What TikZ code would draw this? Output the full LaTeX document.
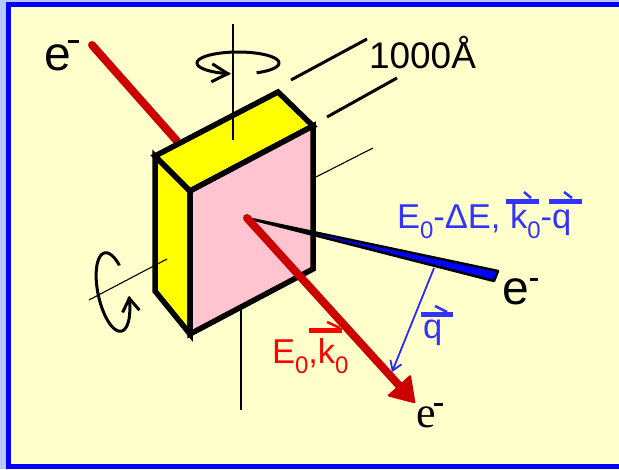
\documentclass[tikz,border=0pt]{standalone}
\usepackage{fontspec}
\setmainfont{Liberation Sans}
\newfontfamily\serifface{Liberation Serif}
\usetikzlibrary{arrows.meta}

\definecolor{paper}{RGB}{255,255,204}
\definecolor{edgeblue}{RGB}{0,0,255}
\definecolor{haloblue}{RGB}{184,200,255}
\definecolor{facepink}{RGB}{255,196,208}
\definecolor{faceyellow}{RGB}{255,255,0}
\definecolor{beamred}{RGB}{204,0,0}
\definecolor{labelred}{RGB}{255,0,0}
\definecolor{labelblue}{RGB}{51,51,255}
\definecolor{wedgeblue}{RGB}{0,0,255}
\definecolor{qblue}{RGB}{40,40,255}

% lowered index digit
\newcommand\lowidx[1]{\raisebox{-10.5pt}{\fontsize{24}{24}\selectfont #1}}

\begin{document}
\begin{tikzpicture}[x=1pt,y=-1pt,
  face/.style={line width=5.5pt, line join=miter, draw=black},
  axisline/.style={line width=1.1pt, black},
  dimline/.style={line width=3pt, black},
  spin/.style={line width=3pt, black},
  lbl/.style={inner sep=0pt, outer sep=0pt, anchor=base west},
  bigfont/.style={font=\fontsize{34.5}{34.5}\selectfont},
  vecbar/.style={line width=5pt},
  vectick/.style={line width=2.5pt},
]
\useasboundingbox (0,0) rectangle (619,469);

% frame
\begin{scope}
\clip (0,0) rectangle (619,469);
\fill[haloblue] (0,0) rectangle (619,469);
\draw[edgeblue, line width=5pt, fill=paper] (8.5,4.5) rectangle (640,466.5);
\end{scope}

% named points
\coordinate (src)   at (92,45);
\coordinate (entry) at (177,141);
\coordinate (hit)   at (247,218);
\coordinate (exit)  at (415,403);
\coordinate (wedgeA) at (498,271);
\coordinate (wedgeB) at (494,281);
\coordinate (qfrom) at (434,268);
\coordinate (qto)   at (392,372);

% incident beam
\draw[beamred, line width=8pt, line cap=round] (src) -- (entry);

% specimen slab
\draw[face, fill=faceyellow] (155,156) -- (190,191) -- (190,334) -- (155,291) -- cycle;
\draw[face, fill=faceyellow] (155,156) -- (278,92) -- (313,126) -- (190,191) -- cycle;
\draw[face, fill=facepink] (190,191) -- (313,126) -- (313,269) -- (190,334) -- cycle;

% rotation axes
\draw[axisline] (233,24) -- (233,140);
\draw[axisline] (241,310) -- (241,410);
\draw[axisline] (89,300) -- (167,259);
\draw[axisline] (316,177) -- (373,148);

% thickness marks
\draw[dimline] (291,80) -- (367,39);
\draw[dimline] (327,117) -- (397,78);

% rotation arrows
\draw[spin, -{Straight Barb[length=16pt,width=18pt]}, variable=\t, domain=63:-260, samples=90, smooth]
  plot ({238+41*cos(\t)},{63+11*sin(\t)});
\draw[spin, -{Straight Barb[length=13pt,width=17pt]}, variable=\t, domain=128:440, samples=90, smooth]
  plot ({113+8.32*cos(\t)+14.67*sin(\t)},{292+39.12*cos(\t)-3.12*sin(\t)});

% scattered beam
\draw[fill=wedgeblue, draw=black, line width=2.5pt, line join=round] (hit) -- (wedgeA) -- (wedgeB) -- cycle;

% transmitted beam
\draw[beamred, line width=8pt, line cap=round, -{Triangle[length=25pt,width=32pt,line width=2pt,round]}] (hit) -- (exit);

% momentum transfer
\draw[qblue, line width=1.8pt, -{Straight Barb[length=9pt,width=12pt]}] (qfrom) -- (qto);

% labels
\node[lbl, font=\fontsize{48}{48}\selectfont] (eIn) at (45,70) {e\kern-3.7pt\rule[27pt]{11pt}{3.5pt}};
\node[lbl, font=\fontsize{48}{48}\selectfont] (eOut) at (502,304) {e\kern1.3pt\rule[23pt]{8pt}{3.5pt}};
\node[lbl, font=\serifface\fontsize{44}{44}\selectfont] (eFwd) at (416,427) {e\kern-2pt\rule[21pt]{9pt}{3pt}};
\node[lbl, font=\fontsize{37}{37}\selectfont] (thick) at (369,68) {1000Å};

\node[lbl, bigfont, text=labelblue] (lossLbl) at (397,228) {E\lowidx{0}-ΔE, k\lowidx{0}-q};
\draw[labelblue, vecbar] (506,201) -- (539,201);
\draw[labelblue, vectick] (524,192) -- (531,198);
\draw[labelblue, vecbar] (549,201) -- (582,201);
\draw[labelblue, vectick] (564,192) -- (572,198);

\node[lbl, bigfont, text=labelred] (incLbl) at (272,363) {E\lowidx{0},k\lowidx{0}};
\draw[labelred, vecbar] (309,330.5) -- (342,330.5);
\draw[labelred, vectick] (327,322) -- (340,328);

\node[lbl, bigfont, text=labelblue] (qLbl) at (423,338) {q};
\draw[labelblue, vecbar] (421,314.5) -- (453,314.5);
\draw[labelblue, vectick] (435,306) -- (447,312);
\end{tikzpicture}
\end{document}
